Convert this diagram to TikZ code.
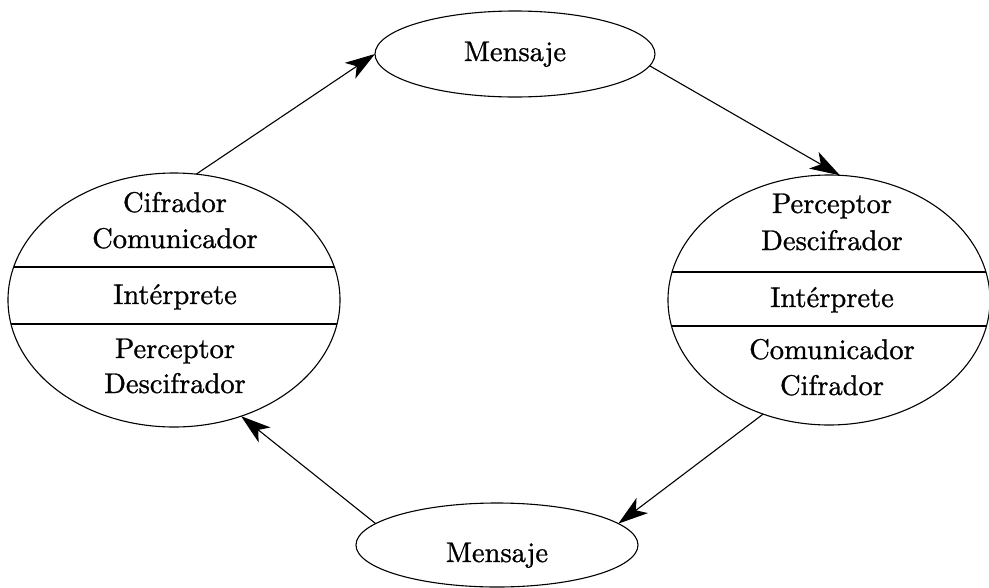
\documentclass[tikz,border=0pt]{standalone}
\usepackage{fontspec}
\newfontfamily\labfont{lmroman10-regular.otf}[FakeBold=1.0]
\usetikzlibrary{arrows.meta,shapes.geometric}
\begin{document}
\begin{tikzpicture}[x=1pt,y=-1pt,
  oval/.style={draw, ellipse, inner sep=0pt, outer sep=0pt, line width=1.1pt},
  lbl/.style={anchor=base, inner sep=0pt, font=\labfont\fontsize{28.5}{34}\selectfont},
  arr/.style={-{Stealth[length=30pt,width=19pt,inset=8pt]}, line width=1.1pt},
  sep/.style={line width=1.1pt}]
\useasboundingbox (0,0) rectangle (989,587);
% ovals
\node[oval, minimum width=280pt, minimum height=86pt] (mt) at (515,54) {};
\node[oval, minimum width=282pt, minimum height=84pt] (mb) at (497,545) {};
\node[oval, minimum width=332pt, minimum height=254pt] (L) at (174,300) {};
\node[oval, minimum width=322pt, minimum height=250pt] (R) at (829,300) {};
% separators
\begin{scope}
  \clip (174,300) ellipse [x radius=166pt, y radius=127pt];
  \draw[sep] (0,267) -- (350,267);
  \draw[sep] (0,324) -- (350,324);
\end{scope}
\begin{scope}
  \clip (829,300) ellipse [x radius=161pt, y radius=125pt];
  \draw[sep] (660,272) -- (1000,272);
  \draw[sep] (660,326) -- (1000,326);
\end{scope}
% texts
\node[lbl] (mtt) at (515,61) {Mensaje};
\node[lbl] (mbt) at (497,562) {Mensaje};
\node[lbl] (l1) at (175,212) {Cifrador};
\node[lbl] (l2) at (175,248) {Comunicador};
\node[lbl] (l3) at (175,304) {Intérprete};
\node[lbl] (l4) at (175,358) {Perceptor};
\node[lbl] (l5) at (175,393) {Descifrador};
\node[lbl] (r1) at (832,213) {Perceptor};
\node[lbl] (r2) at (832,250) {Descifrador};
\node[lbl] (r3) at (832,307) {Intérprete};
\node[lbl] (r4) at (832,359) {Comunicador};
\node[lbl] (r5) at (832,395) {Cifrador};
% arrows
\draw[arr] (L.80) -- (mt.180);
\draw[arr] (mt.-5) -- (R.85);
\draw[arr] (R.240) -- (mb.10);
\draw[arr] (mb.170) -- (L.300);
\end{tikzpicture}
\end{document}
